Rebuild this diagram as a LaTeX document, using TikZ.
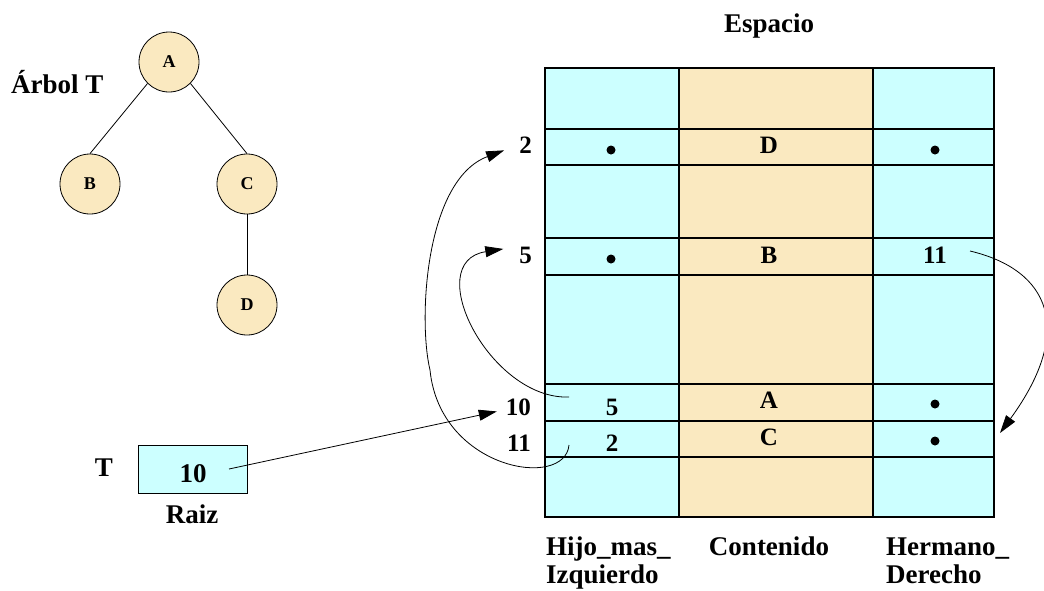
\documentclass[tikz,border=0pt]{standalone}
\usepackage{fontspec}
\setmainfont{Liberation Serif}
\usetikzlibrary{arrows.meta}
\definecolor{celltan}{RGB}{250,233,192}
\definecolor{cellcyan}{RGB}{204,255,255}

\begin{document}
\begin{tikzpicture}[x=1pt, y=-1pt,
    lbl/.style={font=\fontsize{27}{28}\selectfont\bfseries, inner sep=0pt},
    val/.style={font=\fontsize{25}{26}\selectfont\bfseries, inner sep=0pt},
    knot/.style={circle, draw, line width=0.8pt, fill=celltan, minimum size=60pt,
                 inner sep=0pt, font=\fontsize{18}{18}\selectfont\bfseries},
    dot/.style={circle, fill=black, inner sep=0pt, minimum size=9pt},
    grid/.style={line width=1.2pt},
    ptr/.style={-{Triangle[length=18pt, width=11pt]}, line width=0.8pt}]
    \useasboundingbox (0,0) rectangle (1044,590);

    \def\xa{545}
    \def\xb{679}
    \def\xc{873}
    \def\xd{994}

    \def\yt{68}
    \def\yb{517}

% tree T
    \node[lbl, anchor=base west] (arbol) at (11,93) {Árbol T};
    \node[knot] (A) at (169,62) {A};
    \node[knot] (B) at (90,184) {B};
    \node[knot] (C) at (247,184) {C};
    \node[knot] (D) at (247,305) {D};

    \draw[line width=0.8pt] (A.south west) -- (B.north);
    \draw[line width=0.8pt] (A.south east) -- (C.north);
    \draw[line width=0.8pt] (C) -- (D);

% space of cells
    \node[lbl, anchor=base] (espacio) at (769,32) {Espacio};

    \fill[cellcyan] (\xa, \yt) rectangle (\xb, \yb);
    \fill[celltan] (\xb, \yt) rectangle (\xc, \yb);
    \fill[cellcyan] (\xc, \yt) rectangle (\xd, \yb);

    \draw[grid] (\xa, \yt) rectangle (\xd, \yb);
    \draw[grid] (\xb, \yt) -- (\xb, \yb);
    \draw[grid] (\xc, \yt) -- (\xc, \yb);
    \foreach \y in {129,165,238,275,384,421,457}
        \draw[grid] (\xa, \y) -- (\xd, \y);

    \node[val, anchor=base east] (n2) at (532,153) {2};
    \node[val, anchor=base east] (n5) at (532,263) {5};
    \node[val, anchor=base east] (n10) at (531,415) {10};
    \node[val, anchor=base east] (n11) at (531,451) {11};

    \node[dot] (hD) at (611,150) {};
    \node[val, anchor=base] (cD) at (769,153) {D};
    \node[dot] (rD) at (935,150) {};

    \node[dot] (hB) at (611,259) {};
    \node[val, anchor=base] (cB) at (769,263) {B};
    \node[val, anchor=base] (rB) at (935,263) {11};

    \node[val, anchor=base] (hA) at (612,415) {5};
    \node[val, anchor=base] (cA) at (769,408) {A};
    \node[dot] (rA) at (935,404) {};

    \node[val, anchor=base] (hC) at (612,451) {2};
    \node[val, anchor=base] (cC) at (769,445) {C};
    \node[dot] (rC) at (935,441) {};

    \node[lbl, anchor=base west] (hijo) at (546,555) {Hijo\_mas\_};
    \node[lbl, anchor=base west] (izq) at (546,583) {Izquierdo};
    \node[lbl, anchor=base] (cont) at (769,555) {Contenido};
    \node[lbl, anchor=base west] (herm) at (886,555) {Hermano\_};
    \node[lbl, anchor=base west] (der) at (886,583) {Derecho};

% root T
    \node[draw, line width=0.8pt, fill=cellcyan, minimum width=109pt, minimum height=48pt,
          inner sep=0pt] (raiz) at (192.5,469) {};
    \node[lbl, anchor=base] (raizval) at (193,482) {10};
    \node[lbl, anchor=base] (tname) at (104,476) {T};
    \node[lbl, anchor=base] (raizname) at (192,523) {Raiz};

% pointers
    \coordinate (p0) at (229,469);
    \coordinate (s5) at (569,397);
    \coordinate (s2) at (569,445);
    \coordinate (p11) at (970,251);
    \coordinate (qC) at (1000,433);

    \draw[ptr, shorten >=9pt] (p0) -- (n10);
    \draw[ptr, shorten >=16pt] (s5) .. controls (490,400) and (420,262) .. (n5.north west);
    \draw[ptr, shorten >=16pt] (s2) .. controls (565,490) and (440,470) .. (430,370)
        .. controls (418,320) and (425,180) .. (n2.west);
    \draw[ptr] (p11) .. controls (1050,270) and (1075,330) .. (qC);

\end{tikzpicture}
\end{document}
